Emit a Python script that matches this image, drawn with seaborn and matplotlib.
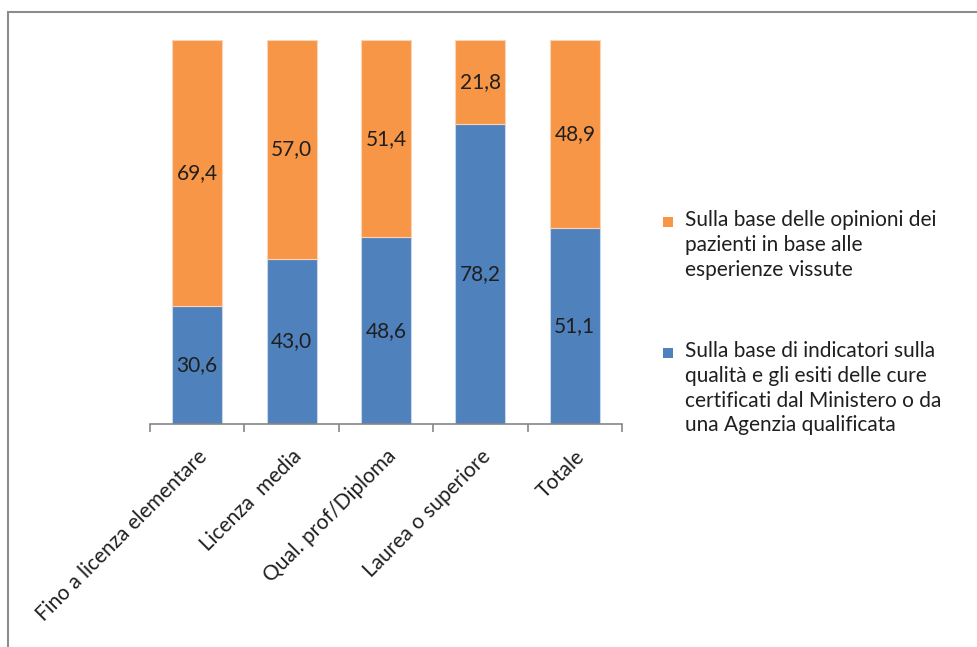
import matplotlib
matplotlib.use("Agg")
import matplotlib.pyplot as plt
from matplotlib.patches import Rectangle
import seaborn as sns

# Titolo di studio e fonte preferita per valutare la qualità delle strutture (%)
categorie = ["Fino a licenza elementare", "Licenza  media", "Qual. prof/Diploma",
             "Laurea o superiore", "Totale"]
indicatori = [30.6, 43.0, 48.6, 78.2, 51.1]
opinioni = [69.4, 57.0, 51.4, 21.8, 48.9]

serie_opinioni = "Sulla base delle opinioni dei\npazienti in base alle\nesperienze vissute"
serie_indicatori = ("Sulla base di indicatori sulla\nqualità e gli esiti delle cure\n"
                    "certificati dal Ministero o da\nuna Agenzia qualificata")

BLU = "#4F81BD"
ARANCIO = "#F79646"
TESTO = "#1F1F1F"
GRIGIO = "#868686"
FS = 15

sns.set_theme(style="white")
plt.rcParams["font.family"] = ["Lato", "DejaVu Sans"]

W, H = 978, 647
fig = plt.figure(figsize=(W / 100, H / 100), dpi=100)
ax = fig.add_axes([150 / W, 1 - 424 / H, (622 - 150) / W, (424 - 40) / H])

sns.barplot(x=categorie, y=indicatori, color=BLU, width=0.53, ax=ax,
            edgecolor="#C9D7EA", linewidth=0.8, saturation=1)
sns.barplot(x=categorie, y=opinioni, bottom=indicatori, color=ARANCIO, width=0.53,
            ax=ax, edgecolor="#FBD3B5", linewidth=0.8, saturation=1)

ax.set_xlim(-0.5, len(categorie) - 0.5)
ax.set_ylim(0, 100)
ax.set_yticks([])
ax.set_ylabel("")
for s in ["top", "right", "left"]:
    ax.spines[s].set_visible(False)
ax.spines["bottom"].set_color(GRIGIO)
ax.spines["bottom"].set_linewidth(1.2)

# etichette ruotate sotto le barre, tacche tra le categorie
ax.set_xticks(range(len(categorie)))
ax.set_xticklabels(categorie, rotation=45, ha="right", rotation_mode="anchor",
                   fontsize=FS, color=TESTO)
ax.tick_params(axis="x", which="major", length=0, pad=16)
ax.set_xticks([i - 0.5 for i in range(len(categorie) + 1)], minor=True)
ax.tick_params(axis="x", which="minor", length=6, width=1.2, color=GRIGIO,
               direction="out", bottom=True)

# valori dentro i segmenti
for i, (b, o) in enumerate(zip(indicatori, opinioni)):
    ax.text(i, b / 2, f"{b:.1f}".replace(".", ","), ha="center", va="center",
            fontsize=FS, color=TESTO)
    ax.text(i, b + o / 2, f"{o:.1f}".replace(".", ","), ha="center", va="center",
            fontsize=FS, color=TESTO)

# legenda
voci = [(ARANCIO, serie_opinioni, 222), (BLU, serie_indicatori, 353)]
for colore, testo, y in voci:
    fig.patches.append(Rectangle((663 / W, 1 - (y + 5) / H), 10 / W, 10 / H,
                                 transform=fig.transFigure, facecolor=colore,
                                 edgecolor="none"))
    fig.text(685 / W, 1 - (y - 12) / H, testo, ha="left", va="top",
             fontsize=FS, color=TESTO, linespacing=1.3)

# cornice del grafico
fig.patches.append(Rectangle((8 / W, -0.05), 1.1, 1 - 12 / H + 0.05,
                             transform=fig.transFigure, facecolor="none",
                             edgecolor="#8C8C8C", linewidth=1.5))

fig.savefig("out.png", dpi=100)
